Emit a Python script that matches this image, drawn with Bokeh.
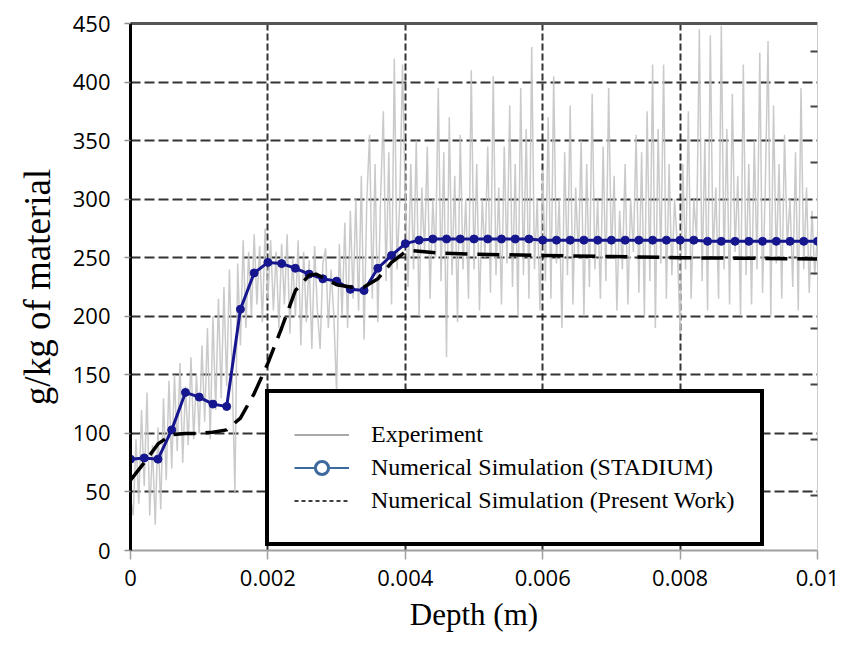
from bokeh.plotting import figure
from bokeh.models import Range1d, LinearAxis, FixedTicker, Legend, LegendItem
from bokeh.embed import file_html
from bokeh.resources import INLINE

# ---------------- data ----------------
exp_step = 0.00004
experiment = [
    # 0.000 - 0.001
    45, 30, 95, 40, 120, 55, 135, 30, 90, 22, 105, 35, 130, 60, 145, 70, 150, 85, 160, 75, 140, 90, 165, 95, 150,
    # 0.001 - 0.002
    100, 175, 110, 190, 95, 200, 120, 215, 130, 225, 140, 240, 150, 50, 245, 175, 265, 190, 255, 200, 270, 210, 260, 195, 275,
    # 0.002 - 0.003
    215, 265, 205, 255, 190, 262, 210, 270, 185, 250, 200, 265, 175, 255, 195, 248, 172, 260, 205, 172, 245, 258, 190, 240, 200,
    # 0.003 - 0.004
    135, 262, 200, 280, 190, 290, 215, 300, 205, 320, 180, 300, 355, 215, 330, 195, 300, 375, 230, 340, 210, 420, 240, 300, 415,
    # 0.004 - 0.005
    300, 225, 330, 240, 350, 200, 310, 255, 345, 215, 300, 250, 395, 230, 340, 165, 370, 235, 320, 195, 355, 240, 300, 215, 410,
    # 0.005 - 0.006
    240, 330, 205, 300, 250, 345, 220, 405, 235, 310, 210, 345, 245, 380, 225, 330, 200, 395, 235, 360, 215, 430, 240, 300, 205,
    # 0.006 - 0.007
    325, 230, 370, 215, 405, 245, 300, 190, 340, 235, 380, 210, 310, 250, 350, 200, 330, 225, 390, 240, 300, 215, 345, 230, 395,
    # 0.007 - 0.008
    250, 320, 205, 290, 240, 330, 210, 300, 255, 355, 220, 340, 200, 375, 230, 415, 190, 360, 245, 415, 215, 330, 235, 300, 260,
    # 0.008 - 0.009
    185, 330, 240, 375, 215, 300, 265, 445, 230, 350, 205, 440, 250, 310, 215, 448, 240, 360, 210, 390, 255, 320, 200, 415, 235,
    # 0.009 - 0.010
    330, 210, 350, 240, 425, 220, 310, 435, 200, 380, 245, 330, 215, 355, 260, 300, 225, 340, 205, 395, 240, 310, 220, 290, 235, 270,
]
exp_depth = [round(i * exp_step, 6) for i in range(len(experiment))]

stadium_step = 0.0002
stadium = [78, 79, 78, 103, 135, 131, 125, 123, 206, 237, 246, 245, 241, 236, 232, 230, 223, 222, 241, 252, 262,
           265, 266, 266, 266, 266, 266, 266, 266, 266,
           265, 265, 265, 265, 265, 265, 265, 265, 265, 265, 265, 265,
           264, 264, 264, 264, 264, 264, 264, 264, 264]
stadium_depth = [round(i * stadium_step, 6) for i in range(len(stadium))]

present_depth = [0, 0.0002, 0.0004, 0.0006, 0.0008, 0.001, 0.0012, 0.0014, 0.0016, 0.0018, 0.002, 0.0022,
                 0.0024, 0.0026, 0.0027, 0.0028, 0.003, 0.0032, 0.0034, 0.0036, 0.0038, 0.004, 0.0041,
                 0.0045, 0.005, 0.006, 0.007, 0.008, 0.009, 0.01]
present = [60, 75, 91, 99, 100, 100, 101, 103, 113, 134, 160, 190,
           222, 235, 236, 233, 227, 225, 225, 232, 246, 255, 256,
           254, 253, 252, 251, 250, 249.5, 249]

x_ticks = [0, 0.002, 0.004, 0.006, 0.008, 0.01]
x_tick_labels = ["0", "0.002", "0.004", "0.006", "0.008", "0.01"]
y_ticks = [0, 50, 100, 150, 200, 250, 300, 350, 400, 450]
right_ticks = [0.1, 0.2, 0.3, 0.4, 0.5, 0.6, 0.7, 0.8, 0.9]

series_names = ["Experiment", "Numerical Simulation (STADIUM)", "Numerical Simulation (Present Work)"]
NAN = float("nan")

# ---------------- figure ----------------
p = figure(width=842, height=655, x_range=Range1d(0, 0.01), y_range=Range1d(0, 450),
           output_backend="svg", toolbar_location=None,
           min_border_left=130, min_border_right=25, min_border_top=23, min_border_bottom=105,
           background_fill_color="white", border_fill_color="white",
           outline_line_color="#c8c8c8", outline_line_width=1)

# grids
p.xgrid.ticker = FixedTicker(ticks=x_ticks[1:-1])
p.ygrid.ticker = FixedTicker(ticks=y_ticks[1:-1])
p.xgrid.grid_line_color = "#1e1e1e"
p.xgrid.grid_line_width = 2
p.xgrid.grid_line_dash = "7 3"
p.xgrid.grid_line_alpha = 0.9
p.ygrid.grid_line_color = "#1e1e1e"
p.ygrid.grid_line_width = 2
p.ygrid.grid_line_dash = "10 4"
p.ygrid.grid_line_alpha = 0.9

# x axis
xa = p.xaxis[0]
xa.ticker = FixedTicker(ticks=x_ticks)
xa.major_label_overrides = {t: l for t, l in zip(x_ticks, x_tick_labels)}
xa.axis_line_color = "#a0a0a0"
xa.axis_line_width = 2
xa.major_tick_line_color = "#a0a0a0"
xa.major_tick_line_width = 1.5
xa.major_tick_in = 0
xa.major_tick_out = 9
xa.minor_tick_line_color = None
xa.major_label_text_font = "Open Sans"
xa.major_label_text_font_size = "22px"
xa.major_label_text_color = "black"
xa.major_label_standoff = 10
xa.axis_label = "Depth (m)"
xa.axis_label_text_font = "Liberation Serif"
xa.axis_label_text_font_size = "31px"
xa.axis_label_text_font_style = "normal"
xa.axis_label_text_color = "black"
xa.axis_label_standoff = 8

# y axis
ya = p.yaxis[0]
ya.ticker = FixedTicker(ticks=y_ticks)
ya.axis_line_color = "black"
ya.axis_line_width = 3
ya.major_tick_line_color = "#909090"
ya.major_tick_line_width = 1.5
ya.major_tick_in = 0
ya.major_tick_out = 6
ya.minor_tick_line_color = None
ya.major_label_text_font = "Open Sans"
ya.major_label_text_font_size = "22px"
ya.major_label_text_color = "black"
ya.major_label_standoff = 14
ya.axis_label = "g/kg of material"
ya.axis_label_text_font = "Liberation Serif"
ya.axis_label_text_font_size = "37px"
ya.axis_label_text_font_style = "normal"
ya.axis_label_text_color = "black"
ya.axis_label_standoff = 12

# top border line
top = LinearAxis(ticker=FixedTicker(ticks=[]), axis_line_color="#555555", axis_line_width=3,
                 major_tick_line_color=None, minor_tick_line_color=None)
p.add_layout(top, "above")

# right-hand small ticks
p.extra_y_ranges = {"r": Range1d(0, 0.95)}
right = LinearAxis(y_range_name="r", ticker=FixedTicker(ticks=right_ticks),
                   axis_line_color="#cccccc", axis_line_width=1,
                   major_tick_line_color="#444444", major_tick_line_width=2,
                   major_tick_in=7, major_tick_out=0, minor_tick_line_color=None,
                   major_label_text_font_size="1px", major_label_text_alpha=0, major_label_standoff=0)
p.add_layout(right, "right")

# ---------------- data renderers ----------------
p.line(exp_depth, experiment, line_color="#c4c4c4", line_width=1.5, line_alpha=0.9)
p.line(stadium_depth, stadium, line_color="#16168f", line_width=3)
p.scatter(stadium_depth, stadium, marker="circle", size=8, fill_color="#16168f", line_color="#16168f")
p.line(present_depth, present, line_color="black", line_width=3.5, line_dash="22 10")

# ---------------- legend (sample glyphs only, nothing drawn in the plot) ----------------
leg_exp = p.line(x=[NAN], y=[NAN], line_color="#8c8c8c", line_width=1.5)
leg_sta_l = p.line(x=[NAN], y=[NAN], line_color="#3d6a9e", line_width=2)
leg_sta_m = p.scatter(x=[NAN], y=[NAN], marker="circle", size=8, fill_color="white",
                      line_color="#3d6a9e", line_width=3)
leg_pw = p.line(x=[NAN], y=[NAN], line_color="black", line_width=1.5, line_dash="4 3")

legend = Legend(items=[LegendItem(label=series_names[0], renderers=[leg_exp]),
                       LegendItem(label=series_names[1], renderers=[leg_sta_l, leg_sta_m]),
                       LegendItem(label=series_names[2], renderers=[leg_pw])],
                location=(135, 4), margin=0, padding=25, spacing=0,
                label_height=33, glyph_height=33, glyph_width=55, label_standoff=22,
                label_text_font="Liberation Serif", label_text_font_size="24px",
                label_text_color="black",
                border_line_color="black", border_line_width=4, border_line_alpha=1,
                background_fill_color="white", background_fill_alpha=1)
p.add_layout(legend)

open("out.html", "w").write(file_html(p, INLINE))
